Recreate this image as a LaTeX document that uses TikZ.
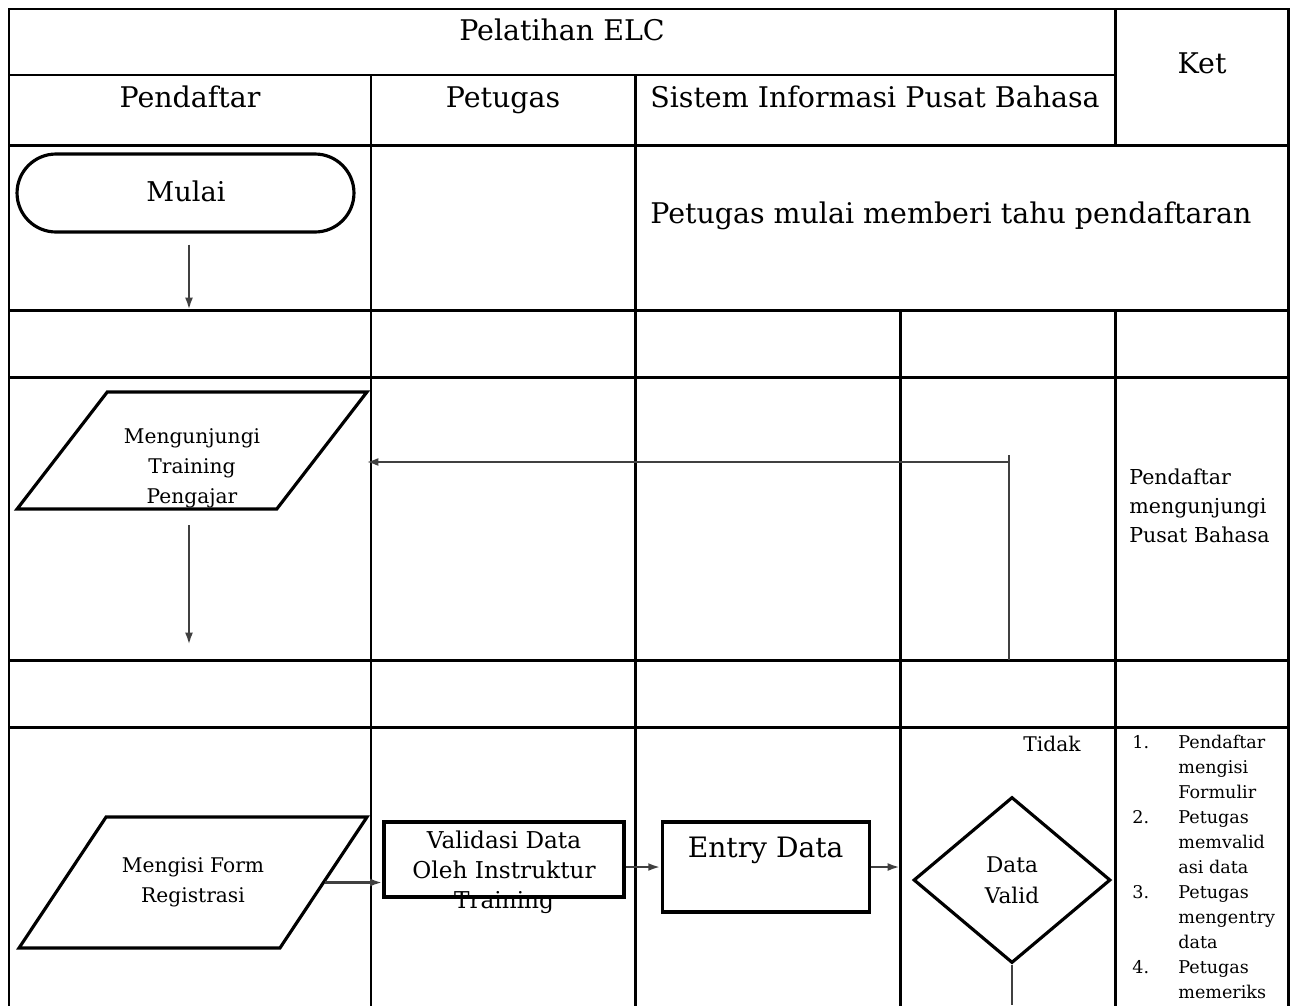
\documentclass[tikz,border=0pt]{standalone}
\usepackage{fontspec}
\setmainfont{DejaVu Serif}
\usepackage{tikz}
\usetikzlibrary{positioning}
\usetikzlibrary{arrows.meta}
\usetikzlibrary{shapes.geometric,shapes.misc}
\tikzset{lane line/.style={line width=1.7pt,line cap=rect},
  term node/.style={rounded rectangle,draw,line width=1.8pt,minimum width=6.74cm,minimum height=1.56cm,inner sep=0pt},
  io node/.style={trapezium,trapezium stretches=true,draw,line width=1.8pt,inner sep=2pt},
  proc node/.style={rectangle,draw,line width=1.8pt,inner sep=0pt},
  dec node/.style={diamond,draw,line width=1.8pt,minimum width=3.94cm,minimum height=3.32cm,inner sep=0pt,align=center,font=\fontsize{12.3}{17.5}\selectfont},
  head text/.style={inner sep=0pt,anchor=base,font=\fontsize{16.2}{18}\selectfont},
  small text/.style={inner sep=0pt,align=center,font=\fontsize{11.5}{17}\selectfont},
  ket text/.style={inner sep=0pt,align=left,font=\fontsize{11.7}{16.5}\selectfont},
  flow line/.style={line width=1.5pt,black!75},
  flow/.style={flow line,-{Latex[length=7pt,width=4.5pt]}},}

\begin{document}
\begin{tikzpicture}[x=0.02cm,y=-0.02cm]
    \useasboundingbox (0,0) rectangle (1297,1005);

    % tabel jalur
    \draw[lane line] (9,1005) -- (9,9) -- (1288,9) -- (1288,1005);
    \draw[lane line] (9,75) -- (1115,75);
    \draw[lane line] (9,145) -- (1288,145);
    \draw[lane line] (9,310) -- (1288,310);
    \draw[lane line] (9,377) -- (1288,377);
    \draw[lane line] (9,660) -- (1288,660);
    \draw[lane line] (9,727) -- (1288,727);
    \draw[lane line] (371,75) -- (371,1005);
    \draw[lane line] (635,75) -- (635,1005);
    \draw[lane line] (1115,9) -- (1115,145);
    \draw[lane line] (1115,310) -- (1115,1005);
    \draw[lane line] (900,310) -- (900,1005);

    \node[head text] (judul) at (562,40) {Pelatihan ELC};
    \node[head text] (ket) at (1202,73) {Ket};
    \node[head text] (pendaftar) at (190,107) {Pendaftar};
    \node[head text] (petugas) at (503,107) {Petugas};
    \node[head text] (sistem) at (875,107) {Sistem Informasi Pusat Bahasa};

    % mulai
    \node[term node] (mulai) at (185.5,193) {};
    \node[head text,font=\fontsize{15.5}{18}\selectfont] (mulai text) at (186,201) {Mulai};
    \node[head text,anchor=base west] (ket mulai) at (650,223) {Petugas mulai memberi tahu pendaftaran};
    \coordinate (mulai end) at ([xshift=0.07cm]mulai.south |- 0,310);
    \draw[flow,shorten <=0.22cm] ([xshift=0.07cm]mulai.south) -- (mulai end);

    % kunjungan
    \node[io node,trapezium left angle=62,trapezium right angle=118,minimum width=7cm,minimum height=2.34cm] (kunjung) at (192,450.5) {};
    \node[small text] (kunjung text) at ([yshift=-0.35cm]kunjung.center) {Mengunjungi\\Training\\Pengajar};
    \node[ket text,anchor=north west] (ket kunjung) at (1129,469) {Pendaftar\\mengunjungi\\Pusat Bahasa};
    \coordinate (kunjung out) at ([xshift=-0.06cm]kunjung.center |- 0,525);
    \coordinate (form in) at ([xshift=-0.06cm]kunjung.center |- 0,645);
    \draw[flow] (kunjung out) -- (form in);

    \coordinate (balik atas) at (1009,455);
    \coordinate (balik bawah) at (1009,660);
    \coordinate (balik belok) at (1009,462);
    \coordinate (balik ujung) at (366,462);
    \draw[flow line] (balik atas) -- (balik bawah);
    \draw[flow] (balik belok) -- (balik ujung);

    % registrasi
    \node[io node,trapezium left angle=63.4,trapezium right angle=116.6,minimum width=6.96cm,minimum height=2.62cm] (form) at (193,882.5) {};
    \node[small text] (form text) at (form.center) {Mengisi Form\\Registrasi};
    \node[proc node,minimum width=4.8cm,minimum height=1.5cm] (validasi) at (504,859.5) {};
    \node[small text,font=\fontsize{13.2}{17}\selectfont,below=0.2cm of validasi.north] (validasi text) {Validasi Data\\Oleh Instruktur\\Training};
    \node[proc node,minimum width=4.14cm,minimum height=1.8cm,right=0.7cm of validasi.north east,anchor=north west] (entry) {};
    \node[head text,font=\fontsize{16}{18}\selectfont] (entry text) at ([yshift=-0.74cm]entry.north) {Entry Data};
    \node[dec node] (valid) at (1012,880) {Data\\Valid};
    \node[small text] (tidak) at (1052,744) {Tidak};

    \coordinate (entry out) at (entry.east -| 900,0);
    \coordinate (valid bawah) at (valid.south |- 0,1005);
    \draw[flow] (form.east) -- (form.east -| validasi.west);
    \draw[flow] (entry.west -| validasi.east) -- (entry.west);
    \draw[flow] (entry.east) -- (entry out);
    \draw[flow line] (valid.south) -- (valid bawah);

    \node[inner sep=0pt,anchor=north west,font=\fontsize{10}{14.2}\selectfont] (ket form) at (1132,731)
      {\begin{tabular}{@{}p{0.92cm}@{}l@{}}
        1. & Pendaftar\\ & mengisi\\ & Formulir\\
        2. & Petugas\\ & memvalid\\ & asi data\\
        3. & Petugas\\ & mengentry\\ & data\\
        4. & Petugas\\ & memeriks
      \end{tabular}};
\end{tikzpicture}
\end{document}
